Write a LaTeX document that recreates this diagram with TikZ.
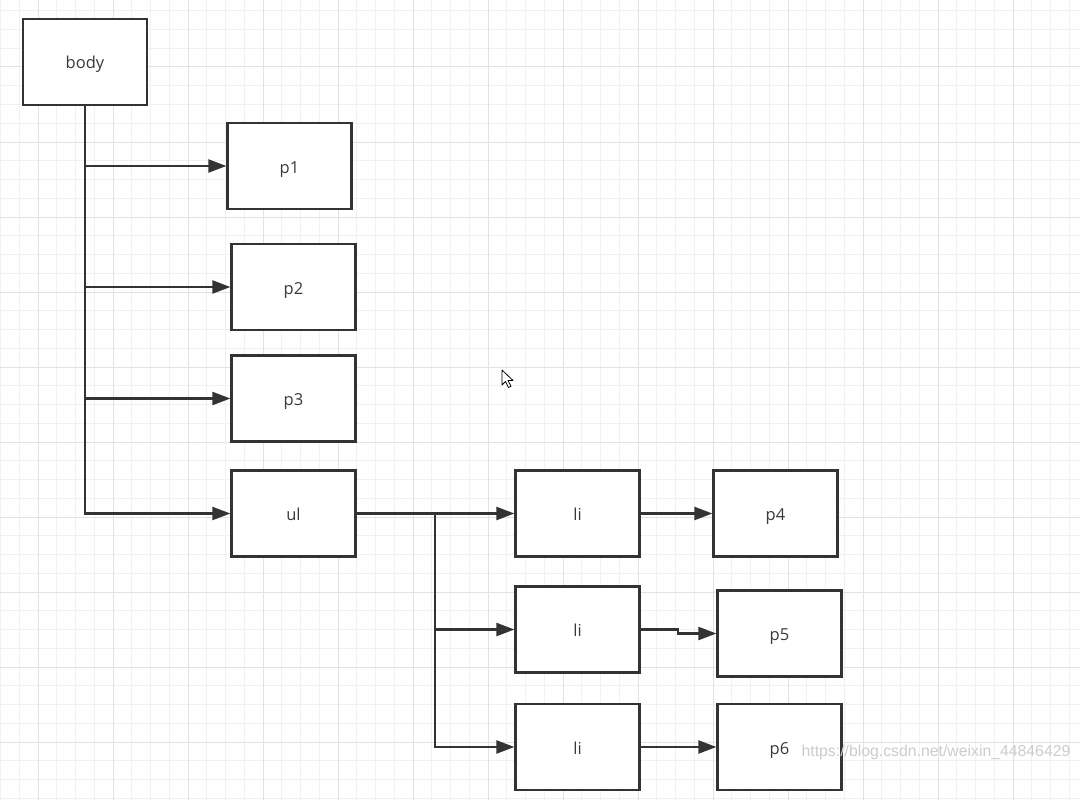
\documentclass[tikz,border=0pt]{standalone}
\usepackage{fontspec}
\setmainfont{Open Sans}
\newfontfamily\markfont{Liberation Sans}
\usetikzlibrary{arrows.meta}

\definecolor{boxline}{HTML}{333333}
\definecolor{labeltext}{HTML}{3A3A3A}
\definecolor{gridminor}{HTML}{F1F1F1}
\definecolor{gridmajor}{HTML}{E2E2E2}

\begin{document}
\begin{tikzpicture}[x=1pt,y=-1pt,
    box/.style={draw=boxline,line width=2.2pt,fill=white,minimum width=124pt,minimum height=86pt,inner sep=0pt,text height=14pt,text depth=0pt,text=labeltext,font=\fontsize{16.5}{19}\selectfont},
    link/.style={draw=boxline,line width=2.2pt,-{Triangle[length=18pt,width=13pt]}},
    minorline/.style={draw=gridminor,line width=1pt},
    majorline/.style={draw=gridmajor,line width=1pt}]
      \useasboundingbox (0,0) rectangle (1080,800);
      \fill[white] (0,0) rectangle (1080,800);

      % grid paper
      \foreach \k in {0,...,57} \draw[minorline] ({0.5+18.75*\k},0) -- ++(0,800);
      \foreach \k in {0,...,42} \draw[minorline] (0,{10.75+18.75*\k}) -- ++(1080,0);
      \foreach \k in {0,...,14} \draw[majorline] ({38+75*\k},0) -- ++(0,800);
      \foreach \k in {0,...,9} \draw[majorline] (0,{67+75*\k}) -- ++(1080,0);

      \draw (85,62) node[box] (body) {body};
      \draw (289.5,166) node[box] (p1) {p1};
      \draw (293.5,287) node[box] (p2) {p2};
      \draw (293.5,398.5) node[box] (p3) {p3};
      \draw (293.5,513.5) node[box] (ul) {ul};
      \draw (577.5,513.5) node[box] (li1) {li};
      \draw (577.5,629.5) node[box] (li2) {li};
      \draw (577.5,747) node[box] (li3) {li};
      \draw (775.5,513.5) node[box] (p4) {p4};
      \draw (779.5,633.5) node[box] (p5) {p5};
      \draw (779.5,747) node[box] (p6) {p6};

      \coordinate (ulsplit) at (435,513.5);
      \coordinate (jog) at (678,629.5);

      \draw [link] (body.south) |- (p1.west);
      \draw [link] (body.south) |- (p2.west);
      \draw [link] (body.south) |- (p3.west);
      \draw [link] (body.south) |- (ul.west);

      \draw [link] (ul.east) -- (ulsplit) -- (li1.west);
      \draw [link] (ul.east) -- (ulsplit) |- (li2.west);
      \draw [link] (ul.east) -- (ulsplit) |- (li3.west);

      \draw [link] (li1) -- (p4);
      \draw [link] (li2.east) -- (jog) |- (p5.west);
      \draw [link] (li3) -- (p6);

      % pointer
      \draw[fill=white,line width=0.8pt,line join=round] (502,370) -- ++(0,15) -- ++(3.5,-3.5) -- ++(3,6) -- ++(2.5,-1.2) -- ++(-3,-5.8) -- ++(5,0) -- cycle;

      \draw (936,752) node[text=gray!40,font=\markfont\fontsize{15.8}{18}\selectfont] (mark) {https://blog.csdn.net/weixin\_44846429};
    \end{tikzpicture}
\end{document}
